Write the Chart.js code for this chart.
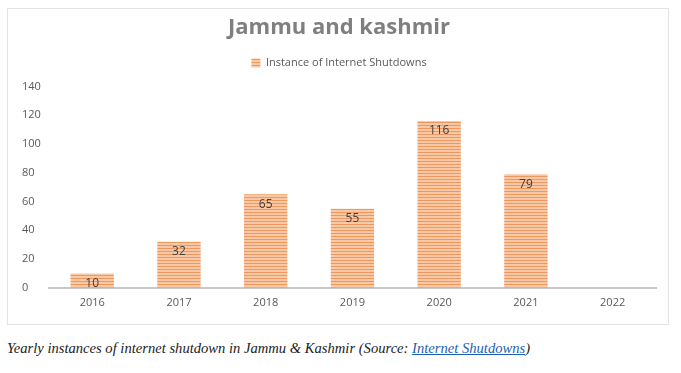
<!DOCTYPE html>
<html>
<head>
<meta charset="utf-8">
<script src="https://cdn.jsdelivr.net/npm/chart.js@4"></script>
<style>
  body { margin: 0; background: #fff; }
  #box {
    position: absolute; left: 7px; top: 8px;
    width: 662px; height: 317px;
    border: 1px solid #e3e3e3; box-sizing: border-box;
  }
  #caption {
    position: absolute; left: 7px; top: 340px;
    font: italic 14.6px "Liberation Serif", serif; color: #222;
  }
  #caption a { color: #1a5fb4; }
</style>
</head>
<body>
<div id="box"><canvas id="chartjs-shutdowns"></canvas></div>
<div id="caption">Yearly instances of internet shutdown in Jammu &amp; Kashmir (Source: <a href="#">Internet Shutdowns</a>)</div>
<script>
const years = ["2016", "2017", "2018", "2019", "2020", "2021", "2022"];
const shutdowns = [10, 32, 65, 55, 116, 79, null];
const yTicks = [0, 20, 40, 60, 80, 100, 120, 140];

// striped fill like the excel pattern
function stripes() {
  const c = document.createElement("canvas");
  c.width = 4;
  c.height = 3;
  const g = c.getContext("2d");
  g.fillStyle = "#f9c8a6";
  g.fillRect(0, 0, 4, 3);
  g.fillStyle = "#ef985e";
  g.fillRect(0, 2, 4, 1);
  return g.createPattern(c, "repeat");
}

const barLabels = {
  id: "barLabels",
  afterDatasetsDraw(chart) {
    const ctx = chart.ctx;
    ctx.save();
    ctx.font = "12px 'Open Sans'";
    ctx.fillStyle = "#404040";
    ctx.textAlign = "center";
    ctx.textBaseline = "top";
    chart.getDatasetMeta(0).data.forEach((bar, i) => {
      if (shutdowns[i] == null) return;
      ctx.fillText(shutdowns[i], bar.x, bar.y + 4);
    });
    ctx.restore();
  },
};

// extra room between legend and plot
const legendGap = {
  id: "legendGap",
  beforeInit(chart) {
    const fit = chart.legend.fit;
    chart.legend.fit = function () {
      fit.bind(chart.legend)();
      this.height += 8;
    };
  },
};

new Chart(document.getElementById("chartjs-shutdowns"), {
  type: "bar",
  data: {
    labels: years,
    datasets: [
      {
        label: "Instance of Internet Shutdowns",
        backgroundColor: stripes(),
        borderWidth: 0,
        data: shutdowns,
        barPercentage: 0.5,
        categoryPercentage: 1,
      },
    ],
  },
  plugins: [barLabels, legendGap],
  options: {
    maintainAspectRatio: false,
    animation: false,
    layout: { padding: { left: 14, right: 12, bottom: 15, top: 6 } },
    plugins: {
      title: {
        display: true,
        text: "Jammu and kashmir",
        color: "#7f7f7f",
        font: { family: "'Open Sans'", size: 22, weight: "bold" },
        padding: { top: 0, bottom: 6 },
      },
      legend: {
        labels: {
          color: "#595959",
          font: { family: "'Open Sans'", size: 11 },
          boxWidth: 9,
          boxHeight: 9,
          padding: 10,
        },
      },
      tooltip: { enabled: false },
    },
    scales: {
      x: {
        grid: { display: false },
        border: { color: "#c8c8c8", width: 2 },
        ticks: { color: "#595959", font: { family: "'Open Sans'", size: 11 }, padding: 0 },
      },
      y: {
        min: 0,
        max: 140,
        afterBuildTicks(axis) {
          axis.ticks = yTicks.map((v) => ({ value: v }));
        },
        grid: { display: false },
        border: { display: false },
        ticks: {
          color: "#595959",
          font: { family: "'Open Sans'", size: 11 },
          crossAlign: "far",
          padding: 0,
        },
      },
    },
  },
});
</script>
</body>
</html>
